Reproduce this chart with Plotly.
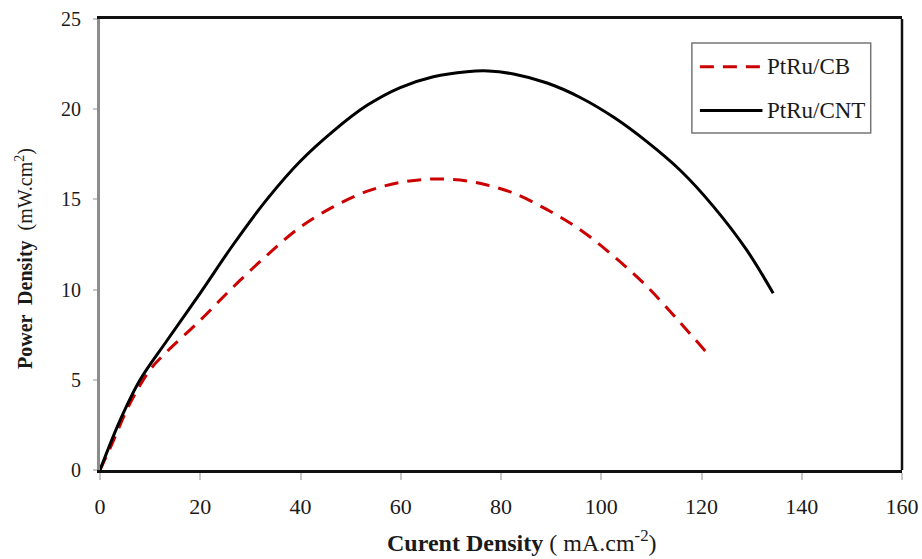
import plotly.graph_objects as go

# Current density (mA/cm2) and power density (mW/cm2) for each catalyst
cb_current = [0, 2.0, 6.0, 10.0, 13.3, 20.0, 26.6, 33.3, 39.9, 46.6, 53.2, 59.9, 66.5,
              73.2, 77.2, 82.5, 89.2, 95.8, 102.5, 109.1, 115.8, 121.1]
cb_power = [0, 1.2, 3.7, 5.56, 6.55, 8.3, 10.15, 11.9, 13.45, 14.6, 15.44, 15.94, 16.13,
            16.02, 15.8, 15.35, 14.43, 13.32, 11.84, 10.18, 8.15, 6.49]

cnt_current = [0, 4.0, 8.0, 13.3, 20.0, 26.6, 33.3, 39.9, 46.6, 53.2, 59.9, 66.5, 73.2,
               77.5, 82.5, 89.2, 95.8, 102.5, 109.1, 115.8, 122.4, 129.0, 134.3]
cnt_power = [0, 2.75, 5.0, 7.15, 9.81, 12.5, 15.0, 17.1, 18.8, 20.2, 21.2, 21.8, 22.08,
             22.12, 21.95, 21.45, 20.65, 19.55, 18.2, 16.6, 14.6, 12.2, 9.8]

series_names = ["PtRu/CB", "PtRu/CNT"]
series_colors = ["#cc0000", "#000000"]
series_dash = ["14px,9px", "solid"]

x_ticks = [0, 20, 40, 60, 80, 100, 120, 140, 160]
y_ticks = [0, 5, 10, 15, 20, 25]

x_title = "<b>Curent Density</b> ( mA.cm<sup>-2</sup>)"
y_title = "<b>Power  Density</b>  (mW.cm<sup>2</sup>)"

serif = "Liberation Serif, Times New Roman, serif"
text_color = "#1a1a1a"

fig = go.Figure()
for xs, ys, name, color, dash in zip([cb_current, cnt_current], [cb_power, cnt_power],
                                     series_names, series_colors, series_dash):
    fig.add_trace(go.Scatter(
        x=xs, y=ys, name=name, mode="lines", showlegend=False,
        line=dict(color=color, width=3, dash=dash, shape="spline", smoothing=1.0),
    ))

# Right border of the plot frame
fig.add_shape(type="line", xref="paper", yref="paper", x0=1, x1=1, y0=0, y1=1,
              line=dict(color="#111111", width=2.5))

# Legend box with long line samples
fig.add_shape(type="rect", xref="paper", yref="paper",
              x0=0.738, x1=0.961, y0=0.747, y1=0.947,
              line=dict(color="#777777", width=1.5), fillcolor="white", layer="above")
legend_rows = [0.894, 0.797]
for row_y, name, color, dash in zip(legend_rows, series_names, series_colors, series_dash):
    fig.add_shape(type="line", xref="paper", yref="paper",
                  x0=0.748, x1=0.826, y0=row_y, y1=row_y, layer="above",
                  line=dict(color=color, width=3, dash=dash))
    fig.add_annotation(xref="paper", yref="paper", x=0.829, y=row_y,
                       xanchor="left", yanchor="middle", showarrow=False, text=name,
                       font=dict(family=serif, size=23, color=text_color))

# Axis titles
fig.add_annotation(xref="paper", yref="paper", x=0.526, y=-0.158,
                   xanchor="center", yanchor="middle", showarrow=False, text=x_title,
                   font=dict(family=serif, size=24, color=text_color))
fig.add_annotation(xref="paper", yref="paper", x=-0.0935, y=0.468, textangle=-90,
                   xanchor="center", yanchor="middle", showarrow=False, text=y_title,
                   font=dict(family=serif, size=20, color=text_color))

fig.update_layout(
    width=922, height=559,
    margin=dict(l=100, r=20, t=19, b=89, autoexpand=False),
    paper_bgcolor="white", plot_bgcolor="white",
    font=dict(family=serif, color=text_color, size=17),
    showlegend=False,
    xaxis=dict(
        range=[0, 160], tickvals=x_ticks, ticktext=[str(v) for v in x_ticks],
        showgrid=False, zeroline=False, automargin=False,
        showline=True, linecolor="#111111", linewidth=2.5, mirror=True,
        ticks="outside", ticklen=7, tickcolor="#c8c8c8", tickwidth=1.5,
        ticklabelstandoff=8,
        tickfont=dict(family=serif, size=22, color=text_color),
    ),
    yaxis=dict(
        range=[0, 25], tickvals=y_ticks, ticktext=[str(v) for v in y_ticks],
        showgrid=False, zeroline=False, automargin=False,
        showline=True, linecolor="#8c8c8c", linewidth=3,
        ticks="outside", ticklen=4, tickcolor="#c8c8c8", tickwidth=1.5,
        ticklabelstandoff=8,
        tickfont=dict(family=serif, size=20, color=text_color),
    ),
)

fig.write_html("out.html")
